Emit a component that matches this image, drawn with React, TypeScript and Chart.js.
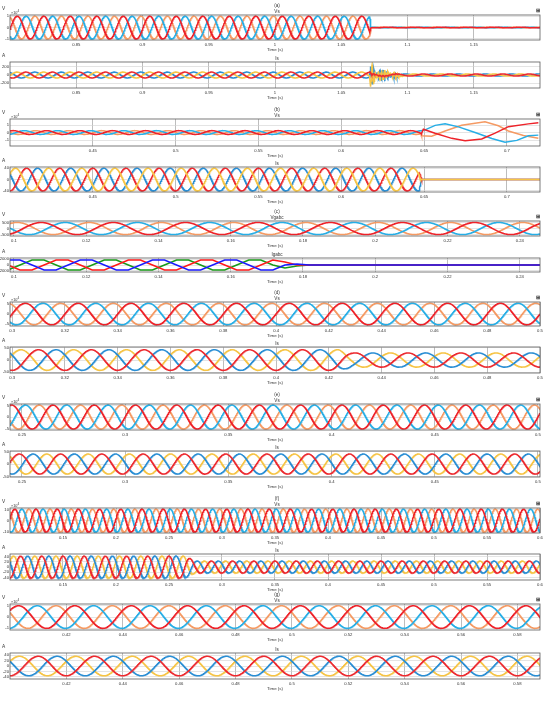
import React, { useEffect, useRef } from "react";
import { Chart, registerables } from "chart.js";
Chart.register(...registerables);

type Pt = { x: number; y: number };

const FREQ = 50;

// ---------- (a) ----------
const aTimeRange = [0.8, 1.2];
const aTimeTicks = [0.85, 0.9, 0.95, 1, 1.05, 1.1, 1.15];
const aTimeLabels = ["0.85", "0.9", "0.95", "1", "1.05", "1.1", "1.15"];
const aVsRange = [-1.1, 1.1];
const aVsTicks = [-1, 0, 1];
const aVsLabels = ["-1", "0", "1"];
const aVsRedPeak = 0.8055;
const aVsEnvT = [0.8, 1.0717, 1.0719, 1.2];
const aVsEnvA = [1, 1, 0.03, 0.03];
const aIsRange = [-312, 312];
const aIsTicks = [-200, 0, 200];
const aIsLabels = ["-200", "0", "200"];
const aIsRedPeak = 0.812;
const aIsEnvT = [0.8, 1.0717, 1.0719, 1.2];
const aIsEnvA = [70, 70, 25, 25];
const aBurstT = [1.0715, 1.0718, 1.074, 1.0758, 1.0768, 1.078, 1.082, 1.0865, 1.0878, 1.089, 1.092, 1.0945, 1.097];
const aBurstA = [0, 280, 250, 60, 20, 110, 120, 40, 10, 65, 60, 10, 0];
const aBurstFreq = 420;

// ---------- (b) ----------
const bTimeRange = [0.4, 0.72];
const bTimeTicks = [0.45, 0.5, 0.55, 0.6, 0.65, 0.7];
const bTimeLabels = ["0.45", "0.5", "0.55", "0.6", "0.65", "0.7"];
const bVsRange = [-1.8, 1.8];
const bVsTicks = [-1, 0, 1];
const bVsLabels = ["-1", "0", "1"];
const bVsRedPeak = 0.402;
const bVsEnvT = [0.4, 0.6486];
const bVsEnvA = [0.25, 0.25];
const bVsPreEnd = 0.6486;
const bVsRedPostT = [0.6496, 0.6566, 0.6667, 0.6748, 0.6848, 0.6929, 0.7009, 0.713, 0.719];
const bVsRedPostV = [0.43, -0.09, -0.78, -1.09, -0.87, -0.09, 0.78, 1.15, 1.3];
const bVsBluePostT = [0.6506, 0.6567, 0.6627, 0.6708, 0.6808, 0.6909, 0.6989, 0.706, 0.713, 0.719];
const bVsBluePostV = [0.35, 0.95, 1.17, 0.75, 0.0, -0.8, -1.3, -1.05, -0.43, -0.35];
const bVsOrangePostT = [0.6486, 0.6546, 0.6627, 0.6727, 0.6868, 0.6949, 0.7009, 0.71, 0.719];
const bVsOrangePostV = [-0.43, -0.5, 0.2, 0.96, 1.43, 0.9, 0.2, -0.4, -0.78];
const bIsRange = [-44, 44];
const bIsTicks = [-40, 0, 40];
const bIsLabels = ["-40", "0", "40"];
const bIsRedPeak = 0.41;
const bIsEnvT = [0.4, 0.647, 0.6485, 0.72];
const bIsEnvA = [40, 40, 0, 0];

// ---------- (c) ----------
const cTimeRange = [0.0989, 0.2456];
const cTimeTicks = [0.1, 0.12, 0.14, 0.16, 0.18, 0.2, 0.22, 0.24];
const cTimeLabels = ["0.1", "0.12", "0.14", "0.16", "0.18", "0.2", "0.22", "0.24"];
const cVRange = [-620, 620];
const cVTicks = [-500, 0, 500];
const cVLabels = ["-500", "0", "500"];
const cVRedPeak = 0.1075;
const cVEnvT = [0.0989, 0.2456];
const cVEnvA = [500, 500];
const cIRange = [-2450, 2450];
const cITicks = [-2000, 0, 2000];
const cILabels = ["-2000", "0", "2000"];
const cIRedPeak = 0.09333;
const cIEnvT = [0.0989, 0.172, 0.1798, 0.2456];
const cIEnvA = [2000, 2000, 0, 0];
const cISampleRate = 300;

// ---------- (d) ----------
const dTimeRange = [0.2992, 0.5];
const dTimeTicks = [0.3, 0.32, 0.34, 0.36, 0.38, 0.4, 0.42, 0.44, 0.46, 0.48, 0.5];
const dTimeLabels = ["0.3", "0.32", "0.34", "0.36", "0.38", "0.4", "0.42", "0.44", "0.46", "0.48", "0.5"];
const dVRange = [-6.1, 6.1];
const dVTicks = [-5, 0, 5];
const dVLabels = ["-5", "0", "5"];
const dVRedPeak = 0.305;
const dVEnvT = [0.29, 0.5];
const dVEnvA = [5.5, 5.5];
const dIRange = [-53, 53];
const dITicks = [-50, 0, 50];
const dILabels = ["-50", "0", "50"];
const dIRedPeak = 0.31;
const dIEnvT = [0.29, 0.424, 0.429, 0.5];
const dIEnvA = [42, 42, 29, 29];

// ---------- (e) ----------
const eTimeRange = [0.2442, 0.501];
const eTimeTicks = [0.25, 0.3, 0.35, 0.4, 0.45, 0.5];
const eTimeLabels = ["0.25", "0.3", "0.35", "0.4", "0.45", "0.5"];
const eVRange = [-5.65, 5.65];
const eVTicks = [-5, 0, 5];
const eVLabels = ["-5", "0", "5"];
const eVRedPeak = 0.245;
const eVEnvT = [0.24, 0.51];
const eVEnvA = [5.2, 5.2];
const eIRange = [-52, 52];
const eITicks = [-50, 0, 50];
const eILabels = ["-50", "0", "50"];
const eIRedPeak = 0.2487;
const eIEnvT = [0.24, 0.51];
const eIEnvA = [40, 40];

// ---------- (f) ----------
const fTimeRange = [0.1, 0.6];
const fTimeTicks = [0.15, 0.2, 0.25, 0.3, 0.35, 0.4, 0.45, 0.5, 0.55, 0.6];
const fTimeLabels = ["0.15", "0.2", "0.25", "0.3", "0.35", "0.4", "0.45", "0.5", "0.55", "0.6"];
const fVRange = [-11.5, 11.5];
const fVTicks = [-10, 0, 10];
const fVLabels = ["-10", "0", "10"];
const fVRedPeak = 0.1045;
const fVEnvT = [0.1, 0.6];
const fVEnvA = [10.5, 10.5];
const fIRange = [-50, 50];
const fITicks = [-40, -20, 0, 20, 40];
const fILabels = ["-40", "-20", "0", "20", "40"];
const fIRedPeak = 0.11;
const fIEnvT = [0.1, 0.265, 0.275, 0.6];
const fIEnvA = [42, 42, 23, 23];

// ---------- (g) ----------
const gTimeRange = [0.4, 0.588];
const gTimeTicks = [0.42, 0.44, 0.46, 0.48, 0.5, 0.52, 0.54, 0.56, 0.58];
const gTimeLabels = ["0.42", "0.44", "0.46", "0.48", "0.5", "0.52", "0.54", "0.56", "0.58"];
const gVRange = [-1.15, 1.15];
const gVTicks = [-1, 0, 1];
const gVLabels = ["-1", "0", "1"];
const gVRedPeak = 0.403;
const gVEnvT = [0.4, 0.6];
const gVEnvA = [1, 1];
const gIRange = [-48, 48];
const gITicks = [-40, -20, 0, 20, 40];
const gILabels = ["-40", "-20", "0", "20", "40"];
const gIRedPeak = 0.41;
const gIEnvT = [0.4, 0.6];
const gIEnvA = [36, 36];

// ---------- colours ----------
const VR = "#ee2229", VB = "#27aee6", VO = "#f59a63";
const IR = "#ec2a2f", IB = "#2a8ed4", IY = "#f6c445";
const GR = "#ff1a1a", GB = "#1a1aff", GG = "#1a9a1a";

// ---------- helpers ----------
function envAt(t: number, T: number[], A: number[]): number {
  if (t <= T[0]) return A[0];
  for (let i = 1; i < T.length; i++) {
    if (t <= T[i]) {
      const f = (t - T[i - 1]) / (T[i] - T[i - 1]);
      return A[i - 1] + f * (A[i] - A[i - 1]);
    }
  }
  return A[A.length - 1];
}

const SHIFTS = [0, -2 * Math.PI / 3, 2 * Math.PI / 3];

function threePhase(range: number[], redPeak: number, envT: number[], envA: number[], end?: number): Pt[][] {
  const out: Pt[][] = [[], [], []];
  const e = end ?? range[1];
  const n = Math.max(20, Math.round(((e - range[0]) / (range[1] - range[0])) * 1600));
  for (let i = 0; i <= n; i++) {
    const t = range[0] + ((e - range[0]) * i) / n;
    const a = envAt(t, envT, envA);
    const th = 2 * Math.PI * FREQ * (t - redPeak);
    for (let k = 0; k < 3; k++) out[k].push({ x: t, y: a * Math.cos(th + SHIFTS[k]) });
  }
  return out;
}

function sampledThreePhase(range: number[], redPeak: number, envT: number[], envA: number[], rate: number): Pt[][] {
  const out: Pt[][] = [[], [], []];
  const t0 = redPeak + 1 / (2 * rate);
  const k0 = Math.floor((range[0] - t0) * rate) - 1;
  const k1 = Math.ceil((range[1] - t0) * rate) + 1;
  for (let k = k0; k <= k1; k++) {
    const t = t0 + k / rate;
    const a = envAt(t, envT, envA);
    const th = 2 * Math.PI * FREQ * (t - redPeak);
    for (let j = 0; j < 3; j++) out[j].push({ x: t, y: a * Math.cos(th + SHIFTS[j]) });
  }
  return out;
}

function keyPts(T: number[], V: number[]): Pt[] {
  return T.map((t, i) => ({ x: t, y: V[i] }));
}

// ---------- build series ----------
const aVs = threePhase(aTimeRange, aVsRedPeak, aVsEnvT, aVsEnvA);
const aIs = threePhase(aTimeRange, aIsRedPeak, aIsEnvT, aIsEnvA).map((s, k) =>
  s.map((p) => {
    const b = envAt(p.x, aBurstT, aBurstA) * Math.sin(2 * Math.PI * aBurstFreq * (p.x - aBurstT[0]));
    const f = k === 1 ? 0.8 : k === 2 ? -1 : 0.1;
    return { x: p.x, y: p.y + f * b };
  })
);
const bVsPre = threePhase(bTimeRange, bVsRedPeak, bVsEnvT, bVsEnvA, bVsPreEnd);
const bVs = [
  [...bVsPre[0], ...keyPts(bVsRedPostT, bVsRedPostV)],
  [...bVsPre[1], ...keyPts(bVsBluePostT, bVsBluePostV)],
  [...bVsPre[2], ...keyPts(bVsOrangePostT, bVsOrangePostV)],
];
const bIs = threePhase(bTimeRange, bIsRedPeak, bIsEnvT, bIsEnvA);
const cV = threePhase(cTimeRange, cVRedPeak, cVEnvT, cVEnvA);
const cI = sampledThreePhase(cTimeRange, cIRedPeak, cIEnvT, cIEnvA, cISampleRate);
const dV = threePhase(dTimeRange, dVRedPeak, dVEnvT, dVEnvA);
const dI = threePhase(dTimeRange, dIRedPeak, dIEnvT, dIEnvA);
const eV = threePhase(eTimeRange, eVRedPeak, eVEnvT, eVEnvA);
const eI = threePhase(eTimeRange, eIRedPeak, eIEnvT, eIEnvA);
const fV = threePhase(fTimeRange, fVRedPeak, fVEnvT, fVEnvA);
const fI = threePhase(fTimeRange, fIRedPeak, fIEnvT, fIEnvA);
const gV = threePhase(gTimeRange, gVRedPeak, gVEnvT, gVEnvA);
const gI = threePhase(gTimeRange, gIRedPeak, gIEnvT, gIEnvA);

// ---------- panel configs ----------
interface Series { data: Pt[]; color: string }
interface PanelCfg {
  top: number; bottom: number;
  xr: number[]; xTicks: number[]; xLabels: string[];
  yr: number[]; yTicks: number[]; yLabels: string[];
  unit: string; exp: boolean; titles: string[]; icon: boolean;
  series: Series[];
}

const vS = (s: Pt[][]): Series[] => [
  { data: s[0], color: VR }, { data: s[1], color: VB }, { data: s[2], color: VO },
];
const iS = (s: Pt[][]): Series[] => [
  { data: s[0], color: IR }, { data: s[1], color: IB }, { data: s[2], color: IY },
];

const panels: PanelCfg[] = [
  { top: 15, bottom: 40, xr: aTimeRange, xTicks: aTimeTicks, xLabels: aTimeLabels, yr: aVsRange, yTicks: aVsTicks, yLabels: aVsLabels, unit: "V", exp: true, titles: ["(a)", "Vs"], icon: true, series: vS(aVs) },
  { top: 62, bottom: 88, xr: aTimeRange, xTicks: aTimeTicks, xLabels: aTimeLabels, yr: aIsRange, yTicks: aIsTicks, yLabels: aIsLabels, unit: "A", exp: false, titles: ["Is"], icon: false, series: [{ data: aIs[0], color: IR }, { data: aIs[2], color: IY }, { data: aIs[1], color: IB }] },
  { top: 119, bottom: 146, xr: bTimeRange, xTicks: bTimeTicks, xLabels: bTimeLabels, yr: bVsRange, yTicks: bVsTicks, yLabels: bVsLabels, unit: "V", exp: true, titles: ["(b)", "Vs"], icon: true, series: vS(bVs) },
  { top: 167, bottom: 192, xr: bTimeRange, xTicks: bTimeTicks, xLabels: bTimeLabels, yr: bIsRange, yTicks: bIsTicks, yLabels: bIsLabels, unit: "A", exp: false, titles: ["Is"], icon: false, series: [{ data: bIs[2], color: IY }, { data: bIs[0], color: IR }, { data: bIs[1], color: IB }] },
  { top: 221, bottom: 236, xr: cTimeRange, xTicks: cTimeTicks, xLabels: cTimeLabels, yr: cVRange, yTicks: cVTicks, yLabels: cVLabels, unit: "V", exp: false, titles: ["(c)", "Vgabc"], icon: true, series: vS(cV) },
  { top: 258, bottom: 272, xr: cTimeRange, xTicks: cTimeTicks, xLabels: cTimeLabels, yr: cIRange, yTicks: cITicks, yLabels: cILabels, unit: "A", exp: false, titles: ["Igabc"], icon: false, series: [{ data: cI[1], color: GB }, { data: cI[0], color: GR }, { data: cI[2], color: GG }] },
  { top: 302, bottom: 326, xr: dTimeRange, xTicks: dTimeTicks, xLabels: dTimeLabels, yr: dVRange, yTicks: dVTicks, yLabels: dVLabels, unit: "V", exp: true, titles: ["(d)", "Vs"], icon: true, series: vS(dV) },
  { top: 347, bottom: 373, xr: dTimeRange, xTicks: dTimeTicks, xLabels: dTimeLabels, yr: dIRange, yTicks: dITicks, yLabels: dILabels, unit: "A", exp: false, titles: ["Is"], icon: false, series: iS(dI) },
  { top: 404, bottom: 430, xr: eTimeRange, xTicks: eTimeTicks, xLabels: eTimeLabels, yr: eVRange, yTicks: eVTicks, yLabels: eVLabels, unit: "V", exp: true, titles: ["(e)", "Vs"], icon: true, series: vS(eV) },
  { top: 451, bottom: 477, xr: eTimeRange, xTicks: eTimeTicks, xLabels: eTimeLabels, yr: eIRange, yTicks: eITicks, yLabels: eILabels, unit: "A", exp: false, titles: ["Is"], icon: false, series: iS(eI) },
  { top: 508, bottom: 533, xr: fTimeRange, xTicks: fTimeTicks, xLabels: fTimeLabels, yr: fVRange, yTicks: fVTicks, yLabels: fVLabels, unit: "V", exp: true, titles: ["(f)", "Vs"], icon: true, series: vS(fV) },
  { top: 554, bottom: 580, xr: fTimeRange, xTicks: fTimeTicks, xLabels: fTimeLabels, yr: fIRange, yTicks: fITicks, yLabels: fILabels, unit: "A", exp: false, titles: ["Is"], icon: false, series: iS(fI) },
  { top: 604, bottom: 630, xr: gTimeRange, xTicks: gTimeTicks, xLabels: gTimeLabels, yr: gVRange, yTicks: gVTicks, yLabels: gVLabels, unit: "V", exp: true, titles: ["(g)", "Vs"], icon: true, series: vS(gV) },
  { top: 653, bottom: 679, xr: gTimeRange, xTicks: gTimeTicks, xLabels: gTimeLabels, yr: gIRange, yTicks: gITicks, yLabels: gILabels, unit: "A", exp: false, titles: ["Is"], icon: false, series: iS(gI) },
];

const FONT = '"Liberation Sans", Arial, sans-serif';
const TXT = "#333";
const PAD_T = 14;
const PAD_B = 14;

function Panel({ cfg }: { cfg: PanelCfg }) {
  const ref = useRef<HTMLCanvasElement>(null);
  const h = cfg.bottom - cfg.top + PAD_T + PAD_B;
  useEffect(() => {
    const deco = {
      id: "deco",
      afterDraw(chart: any) {
        const { ctx, chartArea: ca } = chart;
        ctx.save();
        ctx.strokeStyle = "#5a5a5a";
        ctx.lineWidth = 0.8;
        ctx.strokeRect(ca.left, ca.top, ca.right - ca.left, ca.bottom - ca.top);
        ctx.fillStyle = TXT;
        ctx.textBaseline = "alphabetic";
        ctx.textAlign = "left";
        ctx.font = `4.8px ${FONT}`;
        ctx.fillText(cfg.unit, 2, ca.top - 5.5);
        if (cfg.exp) {
          ctx.font = `3.8px ${FONT}`;
          ctx.fillText("×10", 11, ca.top - 1.2);
          ctx.font = `3px ${FONT}`;
          ctx.fillText("4", 17.6, ca.top - 3.2);
        }
        ctx.textAlign = "center";
        ctx.font = `4.6px ${FONT}`;
        if (cfg.titles.length === 2) {
          ctx.fillText(cfg.titles[0], 277, ca.top - 8);
          ctx.fillText(cfg.titles[1], 277, ca.top - 2.5);
        } else {
          ctx.fillText(cfg.titles[0], 277, ca.top - 2.5);
        }
        if (cfg.icon) {
          ctx.font = `bold 5px ${FONT}`;
          ctx.fillText("⊞", 538, ca.top - 3.5);
        }
        ctx.restore();
      },
    };
    const chart = new Chart(ref.current!, {
      type: "line",
      data: {
        datasets: cfg.series.map((s) => ({
          data: s.data,
          borderColor: s.color,
          borderWidth: 1.5,
          pointRadius: 0,
          fill: false,
          tension: 0,
          parsing: false,
          normalized: true,
        })) as any,
      },
      options: {
        animation: false,
        responsive: false,
        events: [],
        layout: { padding: { top: PAD_T, right: 10, left: 0, bottom: 0 } },
        plugins: { legend: { display: false }, tooltip: { enabled: false }, title: { display: false } },
        scales: {
          x: {
            type: "linear",
            min: cfg.xr[0],
            max: cfg.xr[1],
            afterFit: (s: any) => { s.height = PAD_B; },
            afterBuildTicks: (s: any) => { s.ticks = cfg.xTicks.map((v) => ({ value: v })); },
            ticks: {
              callback: (_v: any, i: number) => cfg.xLabels[i],
              font: { family: FONT, size: 4.2 },
              color: TXT,
              padding: 2.2,
              autoSkip: false,
              maxRotation: 0,
              minRotation: 0,
            },
            grid: { color: "#a0a0a0", lineWidth: 0.7, drawTicks: false },
            border: { display: false },
            title: { display: true, text: "Time (s)", font: { family: FONT, size: 4.4 }, color: TXT, padding: { top: 0, bottom: 1.4 } },
          },
          y: {
            type: "linear",
            min: cfg.yr[0],
            max: cfg.yr[1],
            afterFit: (s: any) => { s.width = 10; },
            afterBuildTicks: (s: any) => { s.ticks = cfg.yTicks.map((v) => ({ value: v })); },
            ticks: {
              callback: (_v: any, i: number) => cfg.yLabels[i],
              font: { family: FONT, size: 4.2 },
              color: TXT,
              padding: 1,
              autoSkip: false,
            },
            grid: { color: "#d2d2d2", lineWidth: 0.6, drawTicks: false },
            border: { display: false },
          },
        },
      } as any,
      plugins: [deco],
    });
    return () => chart.destroy();
  }, []);
  return (
    <canvas
      ref={ref}
      width={550}
      height={h}
      style={{ position: "absolute", left: 0, top: cfg.top - PAD_T, width: 550, height: h }}
    />
  );
}

export default function App() {
  return (
    <div style={{ position: "absolute", left: 0, top: 0, width: 550, height: 702, background: "#fff", overflow: "hidden" }}>
      {panels.map((p, i) => (
        <Panel key={i} cfg={p} />
      ))}
    </div>
  );
}
